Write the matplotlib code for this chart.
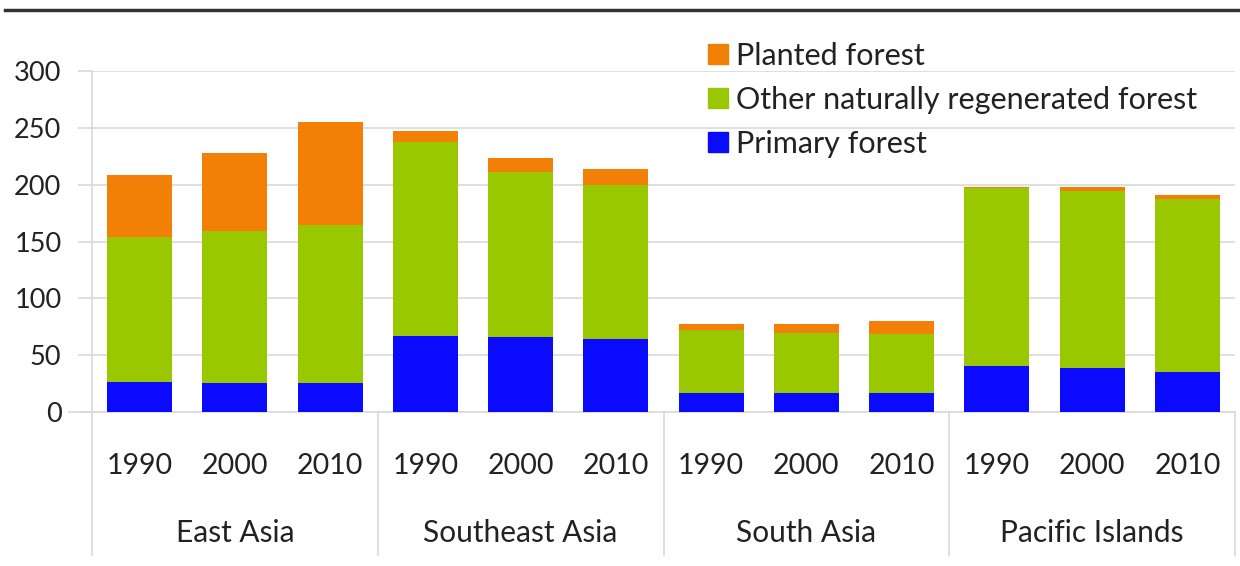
import numpy as np
import matplotlib.pyplot as plt
from matplotlib.lines import Line2D
from matplotlib.patches import Patch

plt.rcParams['font.family'] = ['Lato', 'DejaVu Sans']

regions = ['East Asia', 'Southeast Asia', 'South Asia', 'Pacific Islands']
years = ['1990', '2000', '2010']

# values (million ha)
primary = [26.4, 25.8, 25.2, 67.1, 66.3, 63.9, 17.1, 17.1, 17.1, 40.7, 39.0, 35.5]
other_natural = [127.8, 133.7, 139.3, 170.1, 145.1, 135.8, 55.0, 52.7, 51.5, 156.1, 155.7, 151.9]
planted = [54.3, 68.1, 90.3, 10.0, 12.3, 13.8, 5.3, 7.6, 11.7, 1.4, 3.0, 3.5]

c_primary = '#0A0AFF'
c_other = '#99C800'
c_planted = '#F28006'
grey = '#d9d9d9'
txt = '#222222'

fig = plt.figure(figsize=(12.4, 5.66), dpi=100)
ax = fig.add_axes([92 / 1240, 1 - 412 / 566, 1143 / 1240, 341 / 566])

x = np.arange(len(primary))
p = np.array(primary)
o = np.array(other_natural)
pl = np.array(planted)
w = 0.68
ax.bar(x, p, w, color=c_primary, zorder=3)
ax.bar(x, o, w, bottom=p, color=c_other, zorder=3)
ax.bar(x, pl, w, bottom=p + o, color=c_planted, zorder=3)

ax.set_xlim(-0.5, len(x) - 0.5)
ax.set_ylim(0, 300)
ax.set_yticks(range(0, 301, 50))
ax.tick_params(axis='y', labelsize=19.5, length=10, color=grey, width=1.2,
               pad=12, labelcolor=txt)
ax.set_xticks([])
ax.grid(axis='y', color=grey, linewidth=1.2, zorder=0)
for s in ['top', 'right', 'bottom']:
    ax.spines[s].set_visible(False)
ax.spines['left'].set_color(grey)
ax.spines['left'].set_linewidth(1.2)
ax.axhline(0, color=grey, linewidth=1.2, zorder=1, xmin=-0.02, clip_on=False)

# category axis: years and region labels with separators
trans = ax.get_xaxis_transform()
for i, xi in enumerate(x):
    ax.text(xi, -54 / 341, years[i % 3], transform=trans, ha='center',
            va='center', fontsize=20.5, color=txt)
for g, name in enumerate(regions):
    ax.text(g * 3 + 1, -121 / 341, name, transform=trans, ha='center',
            va='center', fontsize=21.5, color=txt)
for g in range(len(regions) + 1):
    ax.plot([g * 3 - 0.5, g * 3 - 0.5], [0, -143 / 341], transform=trans,
            color=grey, linewidth=1.2, clip_on=False)

handles = [Patch(color=c_planted), Patch(color=c_other), Patch(color=c_primary)]
labels = ['Planted forest', 'Other naturally regenerated forest', 'Primary forest']
fig.legend(handles, labels, loc='upper left', bbox_to_anchor=(708 / 1240, 1 - 42 / 566),
           frameon=False, fontsize=22, handlelength=0.65, handleheight=0.65,
           handletextpad=0.28, labelspacing=0.52, borderpad=0, borderaxespad=0,
           labelcolor=txt)

fig.add_artist(Line2D([5 / 1240, 1], [1 - 10 / 566, 1 - 10 / 566],
                      color='#333333', linewidth=2.5))

fig.savefig('out.png', dpi=100)
